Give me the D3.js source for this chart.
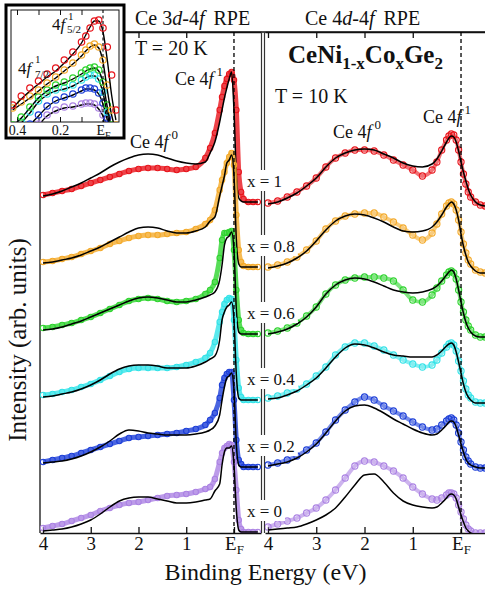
<!DOCTYPE html>
<html><head><meta charset="utf-8">
<script src="https://cdn.jsdelivr.net/npm/d3@7"></script>
<style>
html,body{margin:0;padding:0;background:#fff;}
svg{display:block;}
text{font-family:"Liberation Serif","Times New Roman",serif;}
</style></head><body>
<svg id="c" width="485" height="593"></svg>
<script>
// ---------------- DATA ----------------
const energies = [4.0,3.8,3.6,3.4,3.2,3.0,2.8,2.6,2.4,2.2,2.0,1.8,1.6,1.4,1.2,1.0,0.8,0.6,0.5,0.4,0.3,0.25,0.2,0.15,0.1,0.05,0.0,-0.05,-0.1,-0.15,-0.2,-0.3,-0.4,-0.5];
const compositions = ["1","0.8","0.6","0.4","0.2","0"];

// Ce 3d-4f RPE, T = 20 K (offset spectra, arb. units)
const rpe3d_x1_data   = [338,340,342,344,347,350,353,356,359,362,364,365,365,364,363,364,366,375,385,400,423,436,447,454,459,461,453,423,361,341,334,331,331,331];
const rpe3d_x1_fit    = [337,339,342,346,350,355,360,366,371,375,378,379,378,375,372,370,369,371,380,391,411,423,435,445,454,461,423,358,335,332,331,331,331,331];
const rpe3d_x08_data  = [271,272,274,276,279,282,285,289,292,295,297,298,298,299,300,301,304,309,313,323,343,353,361,370,376,380,368,318,283,271,267,266,266,266];
const rpe3d_x08_fit   = [270,271,273,275,278,282,286,291,296,301,305,306,305,302,300,300,302,306,312,316,337,347,357,370,373,378,358,293,269,266,266,266,266,266];
const rpe3d_x06_data  = [205,206,208,210,213,216,220,224,228,232,234,235,234,232,231,232,234,239,243,251,275,293,300,300,301,302,283,243,213,203,200,199,199,199];
const rpe3d_x06_fit   = [203,204,206,209,212,216,220,224,228,232,235,236,235,233,231,231,233,236,238,241,253,268,288,295,297,301,283,223,201,199,199,199,199,199];
const rpe3d_x04_data  = [138,139,141,143,146,149,153,157,161,164,165,165,165,165,166,168,171,175,180,191,211,221,229,233,235,234,213,173,145,136,133,133,133,133];
const rpe3d_x04_fit   = [136,137,139,141,144,148,153,159,164,167,168,168,167,165,165,165,167,171,174,177,193,213,221,226,228,231,213,158,135,133,133,133,133,133];
const rpe3d_x02_data  = [71,73,75,77,80,83,86,89,92,95,96,97,98,99,100,102,104,108,113,120,135,148,155,159,161,161,133,93,73,69,66,66,66,66];
const rpe3d_x02_fit   = [70,71,72,74,77,81,86,92,99,103,102,100,99,98,98,98,99,101,103,107,118,133,146,155,157,160,143,88,68,66,66,66,66,66];
const rpe3d_x0_data   = [5,7,9,12,15,18,22,25,28,30,31,33,35,37,38,39,41,44,46,54,71,80,85,87,89,88,71,43,13,4,1,1,1,1];
const rpe3d_x0_fit    = [2,3,4,6,9,13,19,26,32,35,36,36,34,32,30,30,31,33,34,42,49,68,81,85,85,87,68,23,3,1,1,1,1,1];

// Ce 4d-4f RPE, T = 10 K
const rpe4d_x1_data   = [330,332,336,341,347,355,366,375,380,383,383,382,378,373,368,363,357,363,371,383,393,397,399,398,393,383,371,359,349,341,336,331,328,327];
const rpe4d_x1_fit    = [329,331,335,340,347,355,366,375,380,383,384,383,379,375,370,367,366,369,374,382,391,395,397,396,391,382,371,361,352,344,338,331,328,327];
const rpe4d_x08_data  = [266,268,271,276,283,292,304,312,317,319,320,320,316,311,305,298,293,300,309,319,327,330,331,329,323,313,301,289,280,273,269,263,261,260];
const rpe4d_x08_fit   = [265,267,270,275,282,292,303,312,317,319,318,315,311,306,302,301,302,306,311,318,326,329,331,329,323,313,299,287,278,271,267,262,260,260];
const rpe4d_x06_data  = [200,202,205,210,217,226,239,248,253,255,256,256,255,252,243,233,231,238,245,252,258,261,262,260,254,243,231,221,213,207,203,198,196,196];
const rpe4d_x06_fit   = [199,201,204,209,216,226,239,248,253,255,254,251,247,243,241,240,241,244,247,252,258,261,263,261,254,243,231,220,211,205,201,197,196,196];
const rpe4d_x04_data  = [135,137,140,144,149,157,166,178,186,190,190,187,183,178,173,169,166,168,173,180,186,189,190,188,182,172,162,152,144,138,135,131,130,130];
const rpe4d_x04_fit   = [134,135,138,142,148,155,165,176,185,189,188,185,181,178,177,176,176,176,178,182,187,189,190,188,181,171,160,149,141,136,133,130,130,130];
const rpe4d_x02_data  = [68,70,73,77,83,90,101,113,123,131,136,133,127,122,117,111,106,103,104,108,112,114,115,113,108,100,91,83,76,72,69,66,65,65];
const rpe4d_x02_fit   = [67,69,71,75,81,89,100,112,122,127,128,125,120,114,109,104,100,98,99,103,108,111,112,111,106,98,89,81,74,70,68,66,65,65];
const rpe4d_x0_data   = [6,9,12,15,20,25,33,43,55,67,72,71,67,62,55,46,39,34,33,35,38,40,40,39,35,28,21,14,8,4,2,0,0,0];
const rpe4d_x0_fit    = [3,4,5,6,9,13,18,25,36,48,58,59,51,40,32,28,26,25,26,30,35,38,39,38,34,26,18,11,5,2,0,-1,-1,-1];

// Inset: 4f1 spin-orbit region (3d-4f)
const insetEnergies = [0.42,0.38,0.34,0.30,0.26,0.22,0.18,0.14,0.10,0.08,0.06,0.04,0.02,0.00,-0.02,-0.04,-0.06];
const inset_x1_data  = [15,24,32,39,46,52,60,68,78,84,92,99,100,92,73,45,10];
const inset_x1_fit   = [12,21,29,36,43,49,57,66,77,85,93,99,99,88,60,25,0];
const inset_x08_data = [12,18,24,30,37,43,50,57,65,70,74,76,73,60,35,10,-5];
const inset_x08_fit  = [10,16,22,29,36,42,49,56,64,69,73,75,72,58,30,5,-10];
const inset_x06_data = [-5,3,13,23,30,35,38,42,47,50,52,53,50,38,15,-5,-10];
const inset_x06_fit  = [-6,2,12,22,29,34,37,41,46,49,51,52,49,37,13,-8,-15];
const inset_x04_data = [-10,-2,8,19,26,30,32,35,40,43,45,45,41,28,8,-10,-15];
const inset_x04_fit  = [-11,-3,7,18,25,29,31,34,39,42,44,44,40,27,6,-12,-18];
const inset_x02_data = [-20,-12,-4,5,14,20,23,26,30,32,32,31,27,17,2,-15,-20];
const inset_x02_fit  = [-21,-13,-5,4,13,19,22,25,29,31,31,30,26,16,0,-18,-22];
const inset_x0_data  = [-30,-22,-13,-4,5,10,13,14,16,17,17,16,12,5,-5,-20,-25];
const inset_x0_fit   = [-31,-23,-14,-5,4,9,12,13,15,16,16,15,11,4,-7,-22,-27];

const tickEnergies = [4,3,2,1,0];
const tickLabels = ["4","3","2","1","E"];
const insetTickEnergies = [0.4,0.3,0.2,0.1,0];
const insetTickLabels = ["0.4","","0.2","","E"];

const seriesColors = ["#e8141b","#f4aa2a","#2ed42e","#33e3e8","#1d3fd8","#ab82e3"];

// ---------------- DRAW ----------------
const FONT = '"Liberation Serif","Times New Roman",serif';
const INK = "#111";
const svg = d3.select("#c").attr("font-family", FONT);

const xL = d3.scaleLinear().domain([4.063,-0.566]).range([40,261]);
const xR = d3.scaleLinear().domain([4.062,-0.497]).range([265,485]);
const y = d3.scaleLinear().domain([0,501]).range([533,32]);

const defs = svg.append("defs");
defs.append("clipPath").attr("id","clipL").append("rect").attr("x",40).attr("y",32).attr("width",221).attr("height",501);
defs.append("clipPath").attr("id","clipR").append("rect").attr("x",265).attr("y",32).attr("width",220).attr("height",501);

// frame lines
svg.append("line").attr("x1",40).attr("x2",485).attr("y1",32).attr("y2",32).attr("stroke",INK).attr("stroke-width",1.3);
svg.append("line").attr("x1",40).attr("x2",40).attr("y1",32).attr("y2",533).attr("stroke",INK).attr("stroke-width",1.3);

[xL,xR].forEach(x => {
  const g = svg.append("g").attr("transform","translate(0,533)")
    .call(d3.axisBottom(x).tickValues(tickEnergies).tickSizeInner(-6).tickSizeOuter(0).tickPadding(3)
      .tickFormat(d => tickLabels[tickEnergies.indexOf(d)]));
  g.attr("font-family",FONT).attr("font-size",19);
  g.select(".domain").attr("stroke",INK).attr("stroke-width",1.3);
  g.selectAll(".tick line").attr("stroke",INK).attr("stroke-width",1.3);
  g.selectAll(".tick text").attr("fill",INK).attr("font-family",FONT);
  g.selectAll(".tick").filter(d => d === 0).select("text")
    .append("tspan").attr("font-size",13).attr("dy","0.38em").text("F");
  const t = svg.append("g").attr("transform","translate(0,32)")
    .call(d3.axisTop(x).tickValues(tickEnergies.slice(0,4)).tickSizeInner(-6).tickSizeOuter(0).tickFormat(""));
  t.select(".domain").attr("stroke",INK).attr("stroke-width",1.3);
  t.selectAll(".tick line").attr("stroke",INK).attr("stroke-width",1.3);
});

// panel separator (double line)
[261.5, 264.5].forEach(px => {
  svg.append("line").attr("x1",px).attr("x2",px).attr("y1",32).attr("y2",533).attr("stroke","#333").attr("stroke-width",1.2);
});

// spectra
const panels = [
  {x:xL, clip:"clipL", band:5, bandOp:0.8, r:2.7,
   data:[rpe3d_x1_data,rpe3d_x08_data,rpe3d_x06_data,rpe3d_x04_data,rpe3d_x02_data,rpe3d_x0_data],
   fit:[rpe3d_x1_fit,rpe3d_x08_fit,rpe3d_x06_fit,rpe3d_x04_fit,rpe3d_x02_fit,rpe3d_x0_fit]},
  {x:xR, clip:"clipR", band:4, bandOp:0.6, r:3.1,
   data:[rpe4d_x1_data,rpe4d_x08_data,rpe4d_x06_data,rpe4d_x04_data,rpe4d_x02_data,rpe4d_x0_data],
   fit:[rpe4d_x1_fit,rpe4d_x08_fit,rpe4d_x06_fit,rpe4d_x04_fit,rpe4d_x02_fit,rpe4d_x0_fit]}
];
panels.forEach(p => {
  const g = svg.append("g").attr("clip-path",`url(#${p.clip})`);
  const line = d3.line().x((d,i) => p.x(energies[i])).y(d => y(d)).curve(d3.curveMonotoneX);
  p.data.forEach((vals,k) => {
    const col = seriesColors[k];
    g.append("path").attr("d",line(vals)).attr("fill","none").attr("stroke",col)
      .attr("stroke-width",p.band).attr("stroke-opacity",p.bandOp);
    g.selectAll(null).data(vals).enter().append("circle")
      .attr("cx",(d,i) => p.x(energies[i])).attr("cy",d => y(d)).attr("r",p.r)
      .attr("fill","none").attr("stroke",col).attr("stroke-width",1.1);
    g.append("path").attr("d",line(p.fit[k])).attr("fill","none").attr("stroke","#000").attr("stroke-width",1.5);
  });
});

// E_F dashed lines
[xL,xR].forEach(x => {
  svg.append("line").attr("x1",x(0)).attr("x2",x(0)).attr("y1",32).attr("y2",533)
    .attr("stroke","#000").attr("stroke-width",1.3).attr("stroke-dasharray","4,3");
});

// composition labels
compositions.forEach((c,k) => {
  const tail = panels[0].data[k][panels[0].data[k].length-1];
  const by = y(tail) - 15;
  const g = svg.append("g");
  const rect = g.append("rect").attr("fill","#fff");
  const t = g.append("text").attr("x",247).attr("y",by).attr("font-size",17).attr("font-family",FONT).attr("fill",INK).text("x = " + c);
  const bb = t.node().getBBox();
  rect.attr("x",244).attr("y",by-17).attr("width",bb.width+6).attr("height",21);
});

// annotations
function label(x, yy, size, parts, weight) {
  const t = svg.append("text").attr("x",x).attr("y",yy).attr("font-size",size).attr("font-family",FONT).attr("fill",INK);
  if (weight) t.attr("font-weight",weight);
  parts.forEach(p => {
    const s = t.append("tspan").text(p.t);
    if (p.i) s.attr("font-style","italic");
    if (p.size) s.attr("font-size",p.size);
    if (p.dy) s.attr("dy",p.dy);
    if (p.dx) s.attr("dx",p.dx);
  });
  return t;
}
label(135,25,20,[{t:"Ce 3"},{t:"d",i:1},{t:"-4"},{t:"f",i:1},{t:"RPE",dx:9}]);
label(305,25,20,[{t:"Ce 4"},{t:"d",i:1},{t:"-4"},{t:"f",i:1},{t:"RPE",dx:9}]);
label(135,55,20,[{t:"T = 20 K"}]);
label(275,103,20,[{t:"T = 10 K"}]);
label(288,63,25,[{t:"CeNi"},{t:"1-x",size:17,dy:6},{t:"Co",dy:-6},{t:"x",size:17,dy:6},{t:"Ge",dy:-6},{t:"2",size:17,dy:6}],"bold");
label(175,85,18,[{t:"Ce 4"},{t:"f",i:1},{t:"1",size:13,dy:-9,dx:3}]);
label(130,148,18,[{t:"Ce 4"},{t:"f",i:1},{t:"0",size:13,dy:-9,dx:3}]);
label(333,138,18,[{t:"Ce 4"},{t:"f",i:1},{t:"0",size:13,dy:-9,dx:3}]);
label(423,123,18,[{t:"Ce 4"},{t:"f",i:1},{t:"1",size:13,dy:-9,dx:3}]);

svg.append("text").attr("x",265.5).attr("y",580).attr("text-anchor","middle").attr("font-size",24).attr("font-family",FONT).attr("fill",INK)
  .text("Binding Energy (eV)");
svg.append("text").attr("transform","translate(26,340) rotate(-90)").attr("text-anchor","middle").attr("font-size",25).attr("font-family",FONT).attr("fill",INK)
  .text("Intensity (arb. units)");

// ---------------- INSET ----------------
const gi = svg.append("g");
gi.append("rect").attr("x",6).attr("y",5).attr("width",118).attr("height",133).attr("fill","#fff").attr("stroke","#000").attr("stroke-width",3);
gi.append("rect").attr("x",11).attr("y",10).attr("width",108).attr("height",112).attr("fill","none").attr("stroke",INK).attr("stroke-width",1);
defs.append("clipPath").attr("id","clipI").append("rect").attr("x",11).attr("y",10).attr("width",108).attr("height",112);
const xi = d3.scaleLinear().domain([0.4,0]).range([17,103]);
const yi = d3.scaleLinear().domain([0,110]).range([120,10]);

const ib = gi.append("g").attr("transform","translate(0,122)")
  .call(d3.axisBottom(xi).tickValues(insetTickEnergies).tickSizeInner(-5).tickSizeOuter(0).tickPadding(3)
    .tickFormat(d => insetTickLabels[insetTickEnergies.indexOf(d)]));
ib.attr("font-family",FONT).attr("font-size",14);
ib.select(".domain").remove();
ib.selectAll(".tick line").attr("stroke",INK);
ib.selectAll(".tick text").attr("fill",INK).attr("font-family",FONT);
ib.selectAll(".tick").filter(d => d === 0).select("text").append("tspan").attr("font-size",10).attr("dy","0.38em").text("F");
const it = gi.append("g").attr("transform","translate(0,10)")
  .call(d3.axisTop(xi).tickValues(insetTickEnergies.slice(0,4)).tickSizeInner(-5).tickSizeOuter(0).tickFormat(""));
it.select(".domain").remove();
it.selectAll(".tick line").attr("stroke",INK);

const insetData = [inset_x1_data,inset_x08_data,inset_x06_data,inset_x04_data,inset_x02_data,inset_x0_data];
const insetFit  = [inset_x1_fit,inset_x08_fit,inset_x06_fit,inset_x04_fit,inset_x02_fit,inset_x0_fit];
const gic = gi.append("g").attr("clip-path","url(#clipI)");
const iline = d3.line().x((d,i) => xi(insetEnergies[i])).y(d => yi(d)).curve(d3.curveMonotoneX);
for (let k = insetData.length-1; k >= 0; k--) {
  gic.append("path").attr("d",iline(insetFit[k])).attr("fill","none").attr("stroke","#000").attr("stroke-width",1.4);
  gic.selectAll(null).data(insetData[k]).enter().append("circle")
    .attr("cx",(d,i) => xi(insetEnergies[i])).attr("cy",d => yi(d)).attr("r",3.2)
    .attr("fill","none").attr("stroke",seriesColors[k]).attr("stroke-width",1.2);
}
gi.append("line").attr("x1",xi(0)).attr("x2",xi(0)).attr("y1",10).attr("y2",122)
  .attr("stroke","#000").attr("stroke-width",1.1).attr("stroke-dasharray","3,2.5");

function itext(x, yy, size, parts) {
  const t = gi.append("text").attr("x",x).attr("y",yy).attr("font-size",size).attr("font-family",FONT).attr("fill",INK);
  parts.forEach(p => { const s = t.append("tspan").text(p.t); if (p.i) s.attr("font-style","italic"); });
}
itext(52,30,17,[{t:"4"},{t:"f",i:1}]);
itext(68,20,11,[{t:"1"}]);
itext(67,33,11,[{t:"5/2"}]);
itext(18,74,17,[{t:"4"},{t:"f",i:1}]);
itext(35,63,11,[{t:"1"}]);
itext(35,78,11,[{t:"7/2"}]);
</script>
</body></html>
